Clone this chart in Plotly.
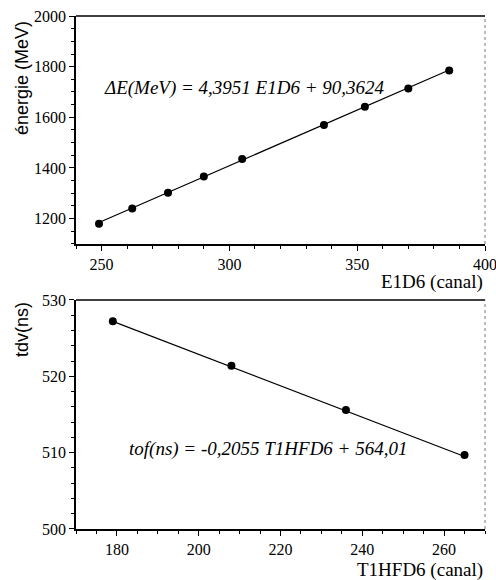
import plotly.graph_objects as go

# ---- data ----
e1d6 = [249, 262, 276, 290, 305, 337, 353, 370, 386]
energie = [1180, 1240, 1302, 1366, 1435, 1570, 1642, 1714, 1785]
fit1_x = [249, 386]
fit1_y = [1184.8, 1787.1]

t1hfd6 = [179, 208, 236, 265]
tdv = [527.2, 521.4, 515.6, 509.7]
fit2_x = [179, 265]
fit2_y = [527.2, 509.5]

top_xticks = [250, 300, 350, 400]
top_yticks = [1200, 1400, 1600, 1800, 2000]
bot_xticks = [180, 200, 220, 240, 260]
bot_yticks = [500, 510, 520, 530]

SERIF = "'Liberation Serif', 'Times New Roman', Tinos, 'DejaVu Serif', serif"
SANS = "'Liberation Sans', Arial, sans-serif"

fig = go.Figure()
fig.add_trace(go.Scatter(x=fit1_x, y=fit1_y, mode="lines", line=dict(color="black", width=1.2),
                         xaxis="x", yaxis="y", hoverinfo="skip"))
fig.add_trace(go.Scatter(x=e1d6, y=energie, mode="markers", marker=dict(color="black", size=8),
                         xaxis="x", yaxis="y"))
fig.add_trace(go.Scatter(x=fit2_x, y=fit2_y, mode="lines", line=dict(color="black", width=1.2),
                         xaxis="x2", yaxis="y2", hoverinfo="skip"))
fig.add_trace(go.Scatter(x=t1hfd6, y=tdv, mode="markers", marker=dict(color="black", size=8),
                         xaxis="x2", yaxis="y2"))

common = dict(showgrid=False, zeroline=False, showline=True, linecolor="black", linewidth=1.5,
              ticks="outside", ticklen=5, tickwidth=1, tickcolor="black",
              ticklabeloverflow="allow", automargin=False,
              tickfont=dict(family=SERIF, size=16, color="black"))

fig.update_layout(
    width=496, height=580,
    margin=dict(l=76, r=11, t=16, b=51),
    paper_bgcolor="white", plot_bgcolor="white",
    showlegend=False,
    font=dict(family=SERIF, color="black"),
    xaxis=dict(domain=[0, 1], range=[240, 400], anchor="y", tickvals=top_xticks,
               minor=dict(dtick=10, ticks="outside", ticklen=3, tickcolor="black"), **common),
    yaxis=dict(domain=[0.5556, 1], range=[1100, 2000], anchor="x", tickvals=top_yticks,
               minor=dict(dtick=50, ticks="outside", ticklen=3, tickcolor="black"), **common),
    xaxis2=dict(domain=[0, 1], range=[170, 270], anchor="y2", tickvals=bot_xticks,
                minor=dict(dtick=5, ticks="outside", ticklen=3, tickcolor="black"), **common),
    yaxis2=dict(domain=[0, 0.4464], range=[500, 530], anchor="x2", tickvals=bot_yticks,
                minor=dict(dtick=2, ticks="outside", ticklen=3, tickcolor="black"), **common),
)

# borders: solid top, dotted right
for xr, yr in (("x domain", "y domain"), ("x2 domain", "y2 domain")):
    fig.add_shape(type="line", xref=xr, yref=yr, x0=0, x1=1, y0=1, y1=1,
                  line=dict(color="black", width=1.5))
    fig.add_shape(type="line", xref=xr, yref=yr, x0=1, x1=1, y0=0, y1=1,
                  line=dict(color="#777777", width=1, dash="dot"))

# equations
fig.add_annotation(xref="x domain", yref="y domain", x=0.063, y=0.685, xanchor="left", yanchor="middle",
                   text="<i>ΔE(MeV) = 4,3951 E1D6 + 90,3624</i>", showarrow=False,
                   font=dict(family=SERIF, size=19, color="black"))
fig.add_annotation(xref="x2 domain", yref="y2 domain", x=0.125, y=0.35, xanchor="left", yanchor="middle",
                   text="<i>tof(ns) = -0,2055 T1HFD6 + 564,01</i>", showarrow=False,
                   font=dict(family=SERIF, size=19, color="black"))

# axis titles
fig.add_annotation(xref="paper", yref="paper", x=1.0, y=(580 - 51 - 282) / 513, xanchor="right", yanchor="middle",
                   text="E1D6 (canal)", showarrow=False, font=dict(family=SERIF, size=19, color="black"))
fig.add_annotation(xref="paper", yref="paper", x=1.0, y=(580 - 51 - 570) / 513, xanchor="right", yanchor="middle",
                   text="T1HFD6 (canal)", showarrow=False, font=dict(family=SERIF, size=19, color="black"))
fig.add_annotation(xref="paper", yref="paper", x=(22 - 76) / 409, y=(580 - 51 - 78) / 513, xanchor="center",
                   yanchor="middle", textangle=-90, text="énergie (MeV)", showarrow=False,
                   font=dict(family=SANS, size=18, color="black"))
fig.add_annotation(xref="paper", yref="paper", x=(22 - 76) / 409, y=(580 - 51 - 330) / 513, xanchor="center",
                   yanchor="middle", textangle=-90, text="tdv(ns)", showarrow=False,
                   font=dict(family=SANS, size=18, color="black"))

fig.write_html("out.html")
